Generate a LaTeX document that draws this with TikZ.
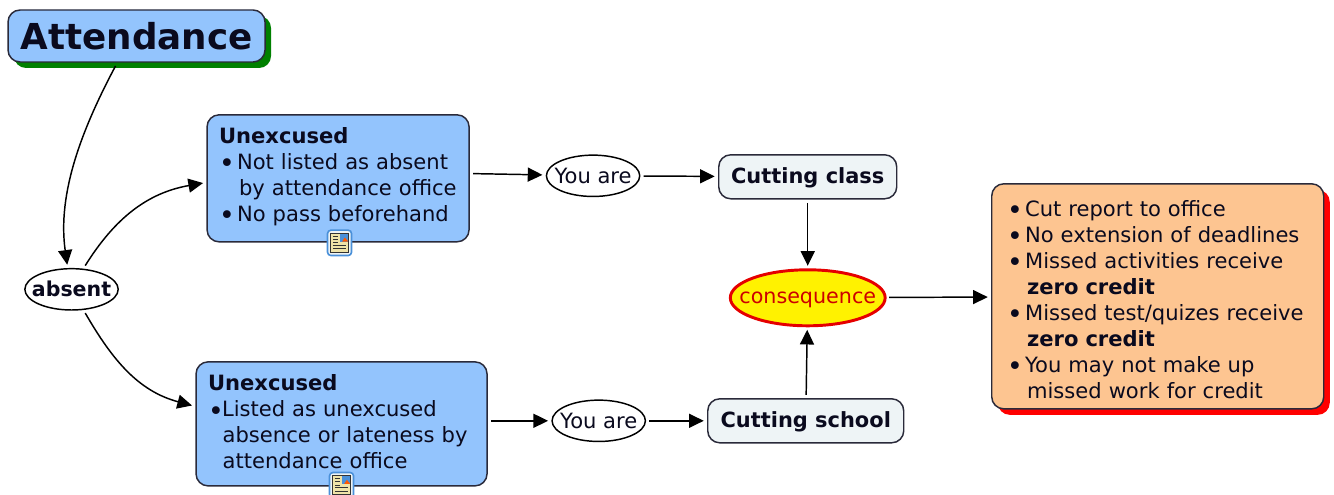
\documentclass[tikz,border=0pt]{standalone}
\usepackage{fontspec}
\setmainfont{DejaVu Sans}
\usetikzlibrary{arrows.meta,shapes.geometric,shadows}
\usetikzlibrary{positioning}
\definecolor{conceptblue}{HTML}{93C4FD}
\definecolor{paleblue}{HTML}{EEF4F6}
\definecolor{peach}{HTML}{FDC591}
\definecolor{edgeink}{HTML}{2A2A3A}
\definecolor{textink}{HTML}{0A0A1E}
\definecolor{noteblue}{HTML}{4A90D9}
\definecolor{notepaper}{HTML}{EFE3A8}
\tikzset{->, >={Triangle[length=11pt,width=10.5pt]}, on grid,
box/.style={rectangle, rounded corners=9pt, draw=edgeink, outer sep=3pt, text=textink, font=\fontsize{15.8}{19.5}\selectfont},
textbox/.style={box, fill=conceptblue, align=left, inner xsep=9pt, inner ysep=0pt},
phrase/.style={ellipse, draw=black, fill=white, inner xsep=-6pt, inner ysep=0pt, outer sep=3pt, text=textink, minimum width=70pt, minimum height=31pt, font=\fontsize{15.8}{19.5}\selectfont},
linkbox/.style={box, fill=paleblue, font=\fontsize{15.7}{19.5}\selectfont\bfseries, minimum height=33pt, text height=14pt},
shadowed/.style={general shadow={shadow xshift=4.5pt, shadow yshift=-4.5pt, fill=#1}},
noteframe/.style={rectangle, rounded corners=2.5pt, draw=noteblue, line width=1.2pt, fill=paleblue, minimum width=18pt, minimum height=19pt, inner sep=0pt, outer sep=0pt},
notepage/.style={-, draw=black!80, line width=0.7pt}}
\newcommand{\bul}{\makebox[13.5pt][l]{\fontsize{20}{19.5}\selectfont\raisebox{-2.6pt}{•}}}
\newcommand{\bulx}{\makebox[10.5pt][l]{\fontsize{20}{19.5}\selectfont\raisebox{-2.6pt}{•}}}
\newcommand{\noteicon}[1]{%
  \begin{scope}[shift={(#1.center)}]
    \fill[notepaper] (-6.5pt,-7pt) rectangle (6.5pt,7pt);
    \fill[noteblue] (0pt,1pt) rectangle (6.5pt,7pt);
    \fill[orange!70!red] (2pt,1pt) -- (4pt,4pt) -- (6.5pt,1pt) -- cycle;
    \draw[notepage] (-6.5pt,-7pt) rectangle (6.5pt,7pt);
    \draw[notepage] (-5pt,-2pt) -- (5pt,-2pt) (-5pt,-4.5pt) -- (5pt,-4.5pt);
    \draw[notepage] (-5pt,5pt) -- (-1.5pt,5pt) (-5pt,2.5pt) -- (-1.5pt,2.5pt) (-5pt,0pt) -- (-1.5pt,0pt);
  \end{scope}}
\begin{document}
\begin{tikzpicture}[line width=1.1pt]
    \useasboundingbox (0,0) rectangle (1000.5pt,-371.25pt);

    % Nodes
    \node[box, shadowed=green!50!black, fill=conceptblue, minimum width=192.75pt, minimum height=39pt, font=\fontsize{26.8}{30}\selectfont\bfseries] (attendance) at (102.4pt,-27pt) {Attendance};
    \node[phrase, below left=190pt and 48.75pt of attendance, font=\fontsize{15.4}{19.5}\selectfont\bfseries] (absent) {absent};
    \node[textbox, above right=83.25pt and 199.9pt of absent, text width=178.5pt, minimum height=95.25pt] (unexOne) {\textbf{Unexcused}\\\bul Not listed as absent\\\hspace*{15pt}by attendance office\\\bul No pass beforehand\rule[-6pt]{0pt}{6pt}};
    \node[textbox, below right=100.9pt and 202.5pt of absent, text width=200.25pt, minimum height=93pt] (unexTwo) {\textbf{Unexcused}\\\bulx Listed as unexcused\\\hspace*{11pt}absence or lateness by\\\hspace*{11pt}attendance office\rule[-3pt]{0pt}{3pt}};
    \node[phrase, above right=1.9pt and 191.25pt of unexOne] (youOne) {You are};
    \node[linkbox, below right=0.75pt and 161pt of youOne, minimum width=133.5pt] (cutClass) {Cutting class};
    \node[ellipse, below=90.75pt of cutClass, draw=red!90!black, line width=2.2pt, fill=yellow, text=red!80!black, inner xsep=-10.2pt, inner ysep=0pt, outer sep=3pt, minimum width=114pt, minimum height=42pt, text height=12pt, font=\fontsize{15.5}{19.5}\selectfont] (consequence) {consequence};
    \node[linkbox, below left=92.25pt and 1.5pt of consequence, minimum width=147pt] (cutSchool) {Cutting school};
    \node[phrase, left=155.25pt of cutSchool] (youTwo) {You are};
    \node[box, shadowed=red, fill=peach, align=left, above right=1.1pt and 262.5pt of consequence, inner xsep=11.5pt, inner ysep=0pt, text width=226pt, minimum height=168.75pt] (report) {\rule{0pt}{17pt}\bul Cut report to office\\\bul No extension of deadlines\\\bul Missed activities receive\\\hspace*{15pt}\textbf{zero credit}\\\bul Missed test/quizes receive\\\hspace*{15pt}\textbf{zero credit}\\\bul You may not make up\\\hspace*{15pt}missed work for credit};
    \node[noteframe, below=48.4pt of unexOne, xshift=1.1pt] (noteOne) {};
    \node[noteframe, below=46pt of unexTwo] (noteTwo) {};
    \noteicon{noteOne}
    \noteicon{noteTwo}

    % Edges
    \path (attendance.-125) edge[out=-118, in=98, looseness=0.9] (absent.100)
          (absent.60) edge[out=58, in=190] (unexOne.182)
          (absent.-60) edge[out=-60, in=165] (unexTwo.173)
          (unexOne.2) edge (youOne)
          (youOne) edge (cutClass)
          (unexTwo.east |- youTwo) edge (youTwo)
          (youTwo) edge (cutSchool)
          (cutClass) edge (consequence)
          (cutSchool) edge (consequence)
          (consequence) edge (report);
  \end{tikzpicture}
\end{document}
